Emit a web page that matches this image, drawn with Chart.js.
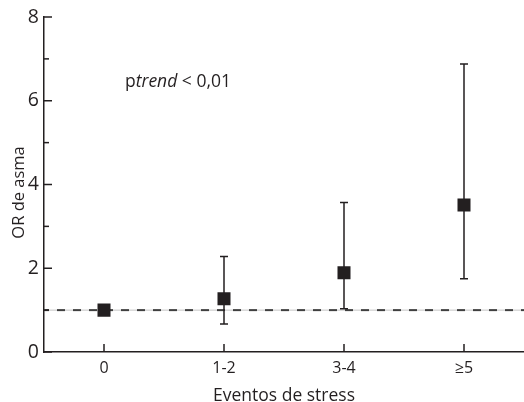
<!DOCTYPE html>
<html>
<head>
<meta charset="utf-8">
<script src="https://cdn.jsdelivr.net/npm/chart.js@4.4.1/dist/chart.umd.min.js"></script>
<style>
  html, body { margin: 0; padding: 0; background: #fff; }
  #wrap { width: 524px; height: 402px; }
</style>
</head>
<body>
<div id="wrap"><canvas id="orChart" width="524" height="402"></canvas></div>
<script>
// data
const categories = ["0", "1-2", "3-4", "\u22655"];
const orValues = [1.0, 1.27, 1.89, 3.51];
const ciLower = [1.0, 0.67, 1.03, 1.75];
const ciUpper = [1.0, 2.28, 3.57, 6.88];
const referenceOR = 1;
const yMin = 0, yMax = 8;
const yTitle = "OR de asma";

const ink = "#231f20";
const fontFamily = "'Open Sans', sans-serif";

// error bars, reference line, inward ticks and the p-trend note
const extras = {
  id: "extras",
  beforeDatasetsDraw(chart) {
    const { ctx, chartArea, scales: { x, y } } = chart;
    ctx.save();

    // reference line at OR = 1: thin grey rule with dark dashes over it
    const yRef = y.getPixelForValue(referenceOR);
    ctx.strokeStyle = "#c4c4c4";
    ctx.lineWidth = 1;
    ctx.beginPath();
    ctx.moveTo(chartArea.left, yRef);
    ctx.lineTo(chartArea.right, yRef);
    ctx.stroke();
    ctx.strokeStyle = "#404040";
    ctx.lineWidth = 2;
    ctx.setLineDash([8, 8]);
    ctx.lineDashOffset = 3;
    ctx.beginPath();
    ctx.moveTo(chartArea.left, yRef);
    ctx.lineTo(chartArea.right, yRef);
    ctx.stroke();
    ctx.setLineDash([]);

    // confidence intervals
    ctx.strokeStyle = ink;
    ctx.lineWidth = 1.5;
    categories.forEach((c, i) => {
      if (ciUpper[i] === ciLower[i]) return;
      const px = x.getPixelForValue(i);
      const top = y.getPixelForValue(ciUpper[i]);
      const bot = y.getPixelForValue(ciLower[i]);
      ctx.beginPath();
      ctx.moveTo(px, top);
      ctx.lineTo(px, bot);
      ctx.moveTo(px - 4, top);
      ctx.lineTo(px + 4, top);
      ctx.moveTo(px - 4, bot);
      ctx.lineTo(px + 4, bot);
      ctx.stroke();
    });

    // inward ticks
    ctx.lineWidth = 1.5;
    y.ticks.forEach((t) => {
      const py = y.getPixelForValue(t.value);
      const len = t.value % 2 === 0 ? 8 : 5;
      ctx.beginPath();
      ctx.moveTo(chartArea.left, py);
      ctx.lineTo(chartArea.left + len, py);
      ctx.stroke();
    });
    categories.forEach((c, i) => {
      const px = x.getPixelForValue(i);
      ctx.beginPath();
      ctx.moveTo(px, chartArea.bottom);
      ctx.lineTo(px, chartArea.bottom - 8);
      ctx.stroke();
    });

    // p trend note
    ctx.fillStyle = ink;
    ctx.textBaseline = "alphabetic";
    let tx = chartArea.left + 81;
    const ty = y.getPixelForValue(6.34);
    const parts = [["p", "normal"], ["trend", "italic"], [" < 0,01", "normal"]];
    parts.forEach(([s, style]) => {
      ctx.font = style + " 17.5px " + fontFamily;
      ctx.fillText(s, tx, ty);
      tx += ctx.measureText(s).width;
    });

    // y axis title
    ctx.font = "16.5px " + fontFamily;
    ctx.textAlign = "center";
    ctx.textBaseline = "middle";
    ctx.translate(19, y.getPixelForValue(3.81));
    ctx.rotate(-Math.PI / 2);
    ctx.fillText(yTitle, 0, 0);

    ctx.restore();
  }
};

new Chart(document.getElementById("orChart"), {
  type: "line",
  data: {
    labels: categories,
    datasets: [{
      label: yTitle,
      data: orValues,
      showLine: false,
      pointStyle: "rect",
      pointRadius: 9.2,
      pointHoverRadius: 9.2,
      pointBackgroundColor: ink,
      pointBorderColor: ink,
      pointBorderWidth: 0
    }]
  },
  options: {
    responsive: false,
    animation: false,
    events: [],
    layout: { autoPadding: false, padding: { top: 17, right: 0, bottom: 0, left: 0 } },
    plugins: {
      legend: { display: false },
      tooltip: { enabled: false }
    },
    scales: {
      x: {
        type: "category",
        offset: true,
        grid: { display: false, drawTicks: false },
        border: { display: true, color: ink, width: 1.5 },
        ticks: { color: ink, padding: 6.5, font: { family: fontFamily, size: 16 } },
        title: {
          display: true,
          text: "Eventos de stress",
          color: ink,
          padding: { top: 0, bottom: -3 },
          font: { family: fontFamily, size: 17.5, lineHeight: 1 }
        },
        afterFit(s) { s.height = 50; }
      },
      y: {
        min: yMin,
        max: yMax,
        grid: { display: false, drawTicks: false },
        border: { display: true, color: ink, width: 1.5 },
        ticks: {
          stepSize: 1,
          color: ink,
          padding: 5,
          font: { family: fontFamily, size: 19.5 },
          callback: (v) => (v % 2 === 0 ? v : "")
        },
        afterFit(s) { s.width = 44; }
      }
    }
  },
  plugins: [extras]
});
</script>
</body>
</html>
